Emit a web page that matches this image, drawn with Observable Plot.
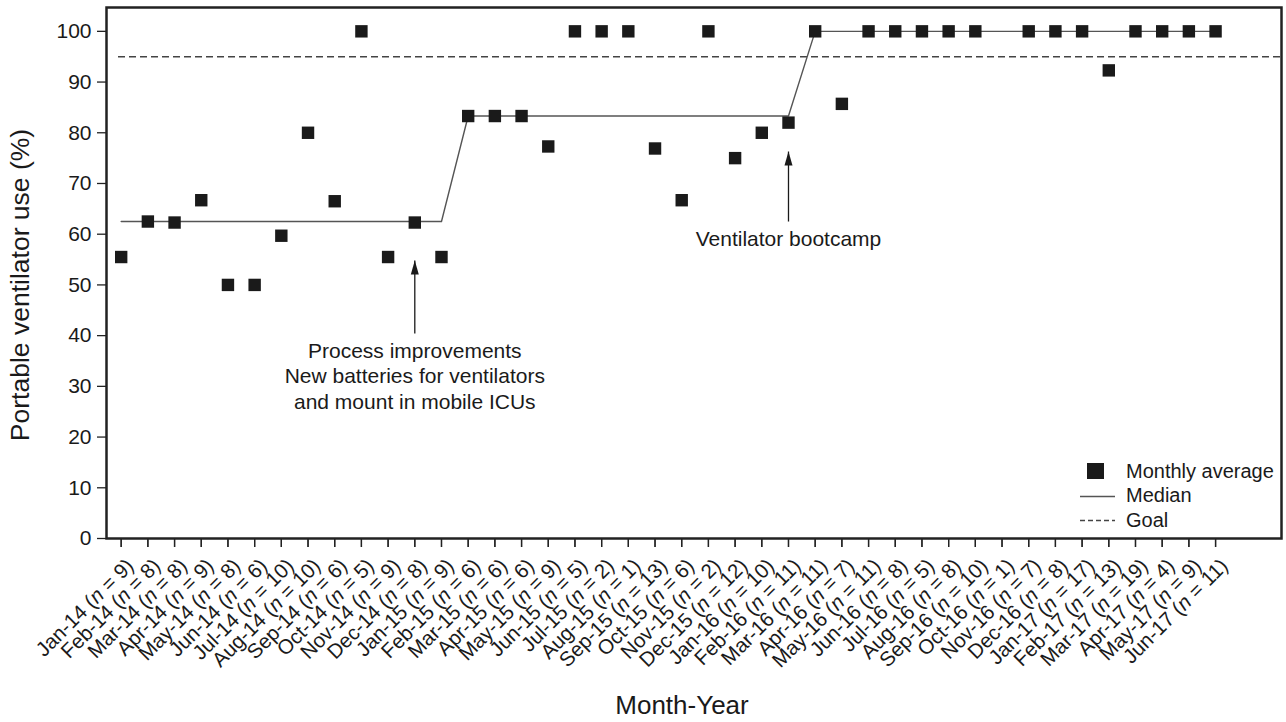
<!DOCTYPE html>
<html><head><meta charset="utf-8">
<script src="https://cdn.jsdelivr.net/npm/d3@7"></script>
<script src="https://cdn.jsdelivr.net/npm/@observablehq/plot@0.6"></script>
<style>
body{margin:0;background:#fff;font-family:"Liberation Sans",Arial,sans-serif;}
#wrap{position:relative;width:1286px;height:722px;overflow:hidden}
#legend{position:absolute;left:1078px;top:459px;font-size:20px;color:#1a1a1a}
#legend .row{display:flex;align-items:center;height:24.5px}
#legend svg{width:48px;height:20px;flex:none}
</style></head><body><div id="wrap"><div id="chart"></div>
<div id="legend">
 <div class="row"><svg><rect x="9" y="2" width="17" height="16" fill="#1a1a1a"/></svg><span>Monthly average</span></div>
 <div class="row"><svg><line x1="2" x2="37" y1="10.5" y2="10.5" stroke="#555" stroke-width="1.3"/></svg><span>Median</span></div>
 <div class="row"><svg><line x1="2" x2="37" y1="10.5" y2="10.5" stroke="#444" stroke-width="1.3" stroke-dasharray="5,3"/></svg><span>Goal</span></div>
</div></div>
<script>
const months = ["Jan-14","Feb-14","Mar-14","Apr-14","May-14","Jun-14","Jul-14","Aug-14","Sep-14","Oct-14","Nov-14","Dec-14",
 "Jan-15","Feb-15","Mar-15","Apr-15","May-15","Jun-15","Jul-15","Aug-15","Sep-15","Oct-15","Nov-15","Dec-15",
 "Jan-16","Feb-16","Mar-16","Apr-16","May-16","Jun-16","Jul-16","Aug-16","Sep-16","Oct-16","Nov-16","Dec-16",
 "Jan-17","Feb-17","Mar-17","Apr-17","May-17","Jun-17"];
const nCounts = [9,8,8,9,8,6,10,10,6,5,9,8, 9,6,6,6,9,5,2,1,13,6,2,12, 10,11,11,7,11,8,5,8,10,1,7,8, 17,13,19,4,9,11];
const monthlyAverage = [55.5,62.5,62.3,66.7,50,50,59.7,80,66.5,100,55.5,62.3,
 55.5,83.3,83.3,83.3,77.3,100,100,100,76.9,66.7,100,75,
 80,82,100,85.7,100,100,100,100,100,null,100,100,
 100,92.3,100,100,100,100];
const medianValues = [62.5,62.5,62.5,62.5,62.5,62.5,62.5,62.5,62.5,62.5,62.5,62.5,
 62.5,83.3,83.3,83.3,83.3,83.3,83.3,83.3,83.3,83.3,83.3,83.3,
 83.3,83.3,100,100,100,100,100,100,100,100,100,100,
 100,100,100,100,100,100];
const goal = 95;
const yTicks = [0,10,20,30,40,50,60,70,80,90,100];
const annotationText = ["Process improvements\nNew batteries for ventilators\nand mount in mobile ICUs", "Ventilator bootcamp"];
const annotationMonth = [11, 25];
const arrowTip = [54.8, 76.3];
const arrowBase = [40.4, 62.5];
const annotationY = [39.2, 61.3];
const annotationDx = [-1, -5];

const rows = months.map((m, i) => ({i, month: m, n: nCounts[i], avg: monthlyAverage[i], median: medianValues[i]}));
const notes = annotationText.map((t, k) => ({x: annotationMonth[k], tip: arrowTip[k], base: arrowBase[k], ty: annotationY[k], dx: annotationDx[k], text: t}));

const arrowHead = {draw(ctx) { ctx.moveTo(0, 0); ctx.lineTo(-4, 14); ctx.lineTo(4, 14); ctx.closePath(); }};
const xDomain = [-0.55, 43.47];
const font = "'Liberation Sans', Arial, sans-serif";

const chart = Plot.plot({
  width: 1286, height: 722,
  marginLeft: 106, marginRight: 5, marginTop: 7, marginBottom: 184,
  style: {fontFamily: font, color: "#1a1a1a", background: "#fff"},
  x: {domain: xDomain},
  y: {domain: [0, 104.7]},
  marks: [
    Plot.axisX({ticks: d3.range(months.length), tickFormat: i => `${months[i]} (n = ${nCounts[i]})`,
      tickRotate: -45, tickSize: 9, tickPadding: 3, fontSize: 20.5, label: null, stroke: "#222", strokeWidth: 1.3}),
    Plot.axisX({ticks: d3.range(months.length), tickSize: 9, text: null, label: null, stroke: "#222", strokeWidth: 1.3}),
    Plot.axisY({ticks: yTicks, tickFormat: d => String(d), tickSize: 9, tickPadding: 6, fontSize: 21, label: null, stroke: "#222", strokeWidth: 1.3}),
    Plot.text(["Portable ventilator use (%)"], {text: d => d, frameAnchor: "left", textAnchor: "middle", rotate: -90, dx: -86, dy: 12, fontSize: 26.5, fill: "#1a1a1a"}),
    Plot.text(["Month-Year"], {text: d => d, frameAnchor: "bottom", dy: 175, dx: -12, fontSize: 26, fill: "#1a1a1a"}),
    Plot.ruleY([goal], {x1: -0.1, x2: xDomain[1], stroke: "#444", strokeDasharray: "7,4", strokeWidth: 1.4}),
    Plot.line(rows, {x: "i", y: "median", stroke: "#555", strokeWidth: 1.4}),
    Plot.dot(rows.filter(d => d.avg != null), {x: "i", y: "avg", symbol: "square", r: 7, fill: "#1a1a1a"}),
    Plot.link(notes, {x1: "x", x2: "x", y1: "base", y2: "tip", stroke: "#1a1a1a", strokeWidth: 1.3}),
    Plot.dot(notes, {x: "x", y: "tip", symbol: arrowHead, fill: "#1a1a1a", stroke: "none"}),
    Plot.text(notes, {x: "x", y: "ty", text: "text", lineAnchor: "top", lineHeight: 1.22, fontSize: 21, fill: "#1a1a1a"}),
    Plot.frame({stroke: "#222", strokeWidth: 2.5})
  ]
});
document.getElementById("chart").appendChild(chart);

const svg = chart.tagName === "svg" ? chart : chart.querySelector("svg");
// shift rotated tick labels like the reference and italicise "n"
svg.querySelectorAll('g[aria-label="x-axis tick label"]').forEach(g => {
  const prev = g.getAttribute("transform") || "";
  g.setAttribute("transform", prev + " translate(9,12)");
});
svg.querySelectorAll('g[aria-label="x-axis tick label"] text').forEach(t => {
  const s = t.textContent;
  const m = s.match(/^(.*\()n( = .*)$/);
  if (!m) return;
  t.textContent = "";
  const ns = "http://www.w3.org/2000/svg";
  const a = document.createElementNS(ns, "tspan"); a.textContent = m[1];
  const b = document.createElementNS(ns, "tspan"); b.textContent = "n"; b.setAttribute("font-style", "italic");
  const c = document.createElementNS(ns, "tspan"); c.textContent = m[2];
  t.append(a, b, c);
});
</script></body></html>
